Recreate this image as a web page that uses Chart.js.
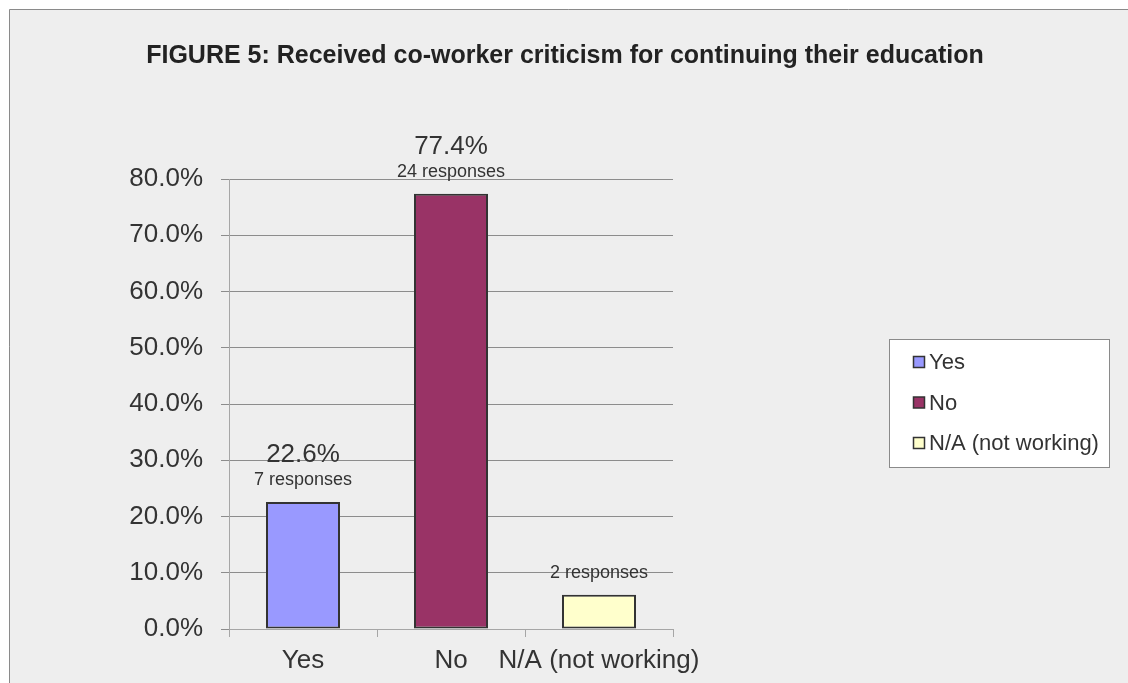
<!DOCTYPE html>
<html>
<head>
<meta charset="utf-8">
<script src="https://cdn.jsdelivr.net/npm/chart.js@4/dist/chart.umd.min.js"></script>
<style>
  html, body { margin: 0; padding: 0; background: #ffffff; }
  #wrap { width: 1128px; height: 683px; position: relative; }
</style>
</head>
<body>
<div id="wrap"><canvas id="chart" width="1128" height="683"></canvas></div>
<script>
// Survey answers and their shares
const titleText = 'FIGURE 5: Received co-worker criticism for continuing their education';
const categories = ['Yes', 'No', 'N/A (not working)'];
const percentValues = [22.6, 77.4, 6.1];
const responseCounts = [7, 24, 2];
const showPercent = [true, true, false];
const barColors = ['#9999ff', '#993366', '#ffffcc'];
const yAxisMax = 80;
const yAxisStep = 10;

const FONT = "'Liberation Sans', Arial, sans-serif";
const TEXT = '#333333';

// Panel background with its left and top frame lines
const panelPlugin = {
  id: 'panel',
  beforeDraw(chart) {
    const ctx = chart.ctx;
    ctx.save();
    ctx.fillStyle = '#ffffff';
    ctx.fillRect(0, 0, chart.width, chart.height);
    ctx.fillStyle = '#eeeeee';
    ctx.fillRect(9, 9, chart.width - 9, chart.height - 9);
    ctx.strokeStyle = '#8a8a8a';
    ctx.lineWidth = 1;
    ctx.beginPath();
    ctx.moveTo(9.5, chart.height);
    ctx.lineTo(9.5, 9.5);
    ctx.lineTo(chart.width, 9.5);
    ctx.stroke();
    ctx.restore();
  }
};

// Heading centred over the whole panel
const headingPlugin = {
  id: 'heading',
  afterDraw(chart) {
    const ctx = chart.ctx;
    ctx.save();
    ctx.font = 'bold 25px ' + FONT;
    ctx.fillStyle = '#222222';
    ctx.textAlign = 'center';
    ctx.textBaseline = 'middle';
    ctx.fillText(titleText, 565, 56);
    ctx.restore();
  }
};

// Percentage and response count above each bar
const barLabelPlugin = {
  id: 'barLabels',
  afterDatasetsDraw(chart) {
    const ctx = chart.ctx;
    const meta = chart.getDatasetMeta(0);
    ctx.save();
    ctx.fillStyle = TEXT;
    ctx.textAlign = 'center';
    ctx.textBaseline = 'middle';
    meta.data.forEach((bar, i) => {
      if (showPercent[i]) {
        ctx.font = '26px ' + FONT;
        ctx.fillText(percentValues[i].toFixed(1) + '%', bar.x, bar.y - 47);
      }
      ctx.font = '18px ' + FONT;
      ctx.fillText(responseCounts[i] + ' responses', bar.x, bar.y - 22);
    });
    ctx.restore();
  }
};

// Boxed key on the right
const keyPlugin = {
  id: 'key',
  afterDraw(chart) {
    const ctx = chart.ctx;
    const box = { x: 889.5, y: 339.5, w: 220, h: 128 };
    ctx.save();
    ctx.fillStyle = '#ffffff';
    ctx.fillRect(box.x, box.y, box.w, box.h);
    ctx.strokeStyle = '#8a8a8a';
    ctx.lineWidth = 1;
    ctx.strokeRect(box.x, box.y, box.w, box.h);
    ctx.font = '22px ' + FONT;
    ctx.textBaseline = 'middle';
    ctx.textAlign = 'left';
    categories.forEach((name, i) => {
      const cy = 362 + i * 40.5;
      ctx.fillStyle = barColors[i];
      ctx.fillRect(913.5, cy - 5.5, 11, 11);
      ctx.strokeStyle = '#333333';
      ctx.lineWidth = 1.5;
      ctx.strokeRect(913.5, cy - 5.5, 11, 11);
      ctx.fillStyle = TEXT;
      ctx.fillText(name, 929, cy + 1);
    });
    ctx.restore();
  }
};

new Chart(document.getElementById('chart'), {
  type: 'bar',
  data: {
    labels: categories,
    datasets: [{
      data: percentValues,
      backgroundColor: barColors,
      borderColor: '#333333',
      borderWidth: 2,
      borderSkipped: false,
      barPercentage: 0.5,
      categoryPercentage: 1.0
    }]
  },
  options: {
    responsive: false,
    animation: false,
    devicePixelRatio: 1,
    layout: { padding: { top: 179, right: 455, bottom: 0, left: 0 } },
    plugins: {
      legend: { display: false },
      title: { display: false },
      tooltip: { enabled: false }
    },
    scales: {
      x: {
        offset: true,
        grid: {
          offset: true,
          drawOnChartArea: false,
          drawTicks: true,
          tickLength: 8,
          color: '#a6a6a6'
        },
        border: { display: true, color: '#a6a6a6' },
        ticks: {
          color: TEXT,
          font: { family: FONT, size: 26 },
          padding: 8,
          maxRotation: 0,
          autoSkip: false
        },
        afterFit(scale) { scale.height = 54; }
      },
      y: {
        min: 0,
        max: yAxisMax,
        grid: {
          color: '#8c8c8c',
          tickLength: 8,
          drawTicks: true
        },
        border: { display: true, color: '#a6a6a6' },
        ticks: {
          stepSize: yAxisStep,
          color: TEXT,
          font: { family: FONT, size: 26 },
          padding: 18,
          callback: (v) => Number(v).toFixed(1) + '%'
        },
        afterFit(scale) { scale.width = 229; }
      }
    }
  },
  plugins: [panelPlugin, headingPlugin, barLabelPlugin, keyPlugin]
});
</script>
</body>
</html>
